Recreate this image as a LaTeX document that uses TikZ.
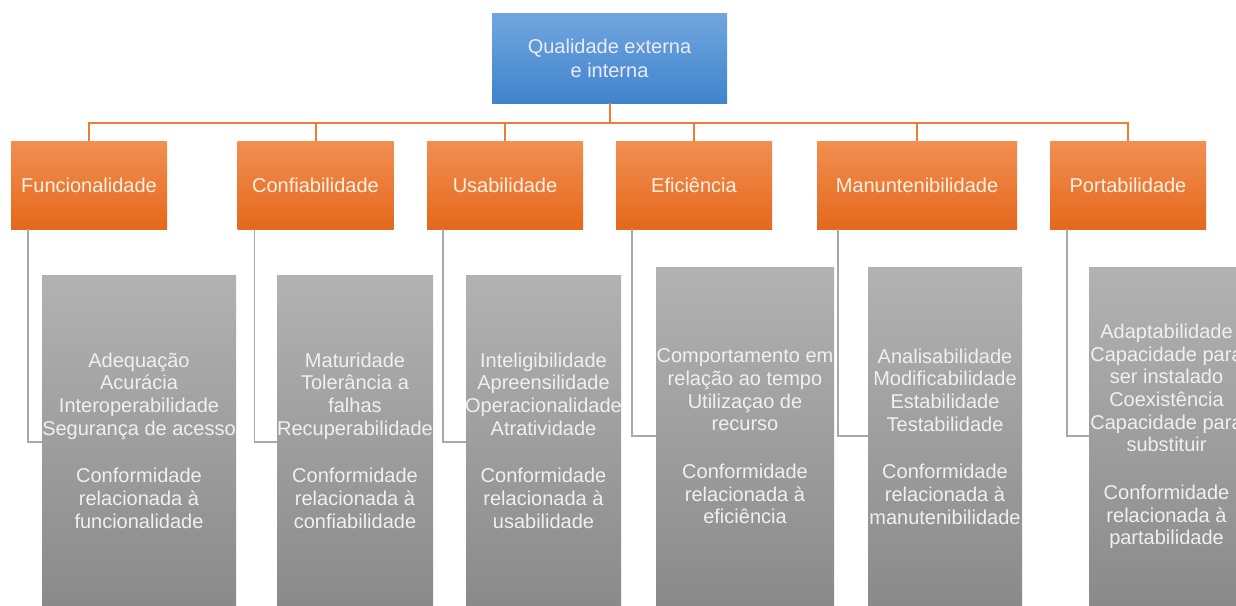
\documentclass[tikz,border=0pt]{standalone}
\usepackage{fontspec}
\setmainfont{Liberation Sans}
\usetikzlibrary{shadings}
\definecolor{bluetop}{RGB}{112,166,222}
\definecolor{bluebot}{RGB}{64,132,205}
\definecolor{ortop}{RGB}{242,143,82}
\definecolor{orbot}{RGB}{229,104,28}
\definecolor{grtop}{RGB}{178,178,178}
\definecolor{grbot}{RGB}{138,138,138}
\definecolor{orline}{RGB}{237,125,49}
\definecolor{brline}{RGB}{168,168,168}
\begin{document}
\begin{tikzpicture}[x=1pt,y=-1pt,
  rootbox/.style={rectangle, top color=bluetop, bottom color=bluebot, minimum width=235pt, minimum height=90pt, inner sep=0pt, align=center, text=white!92!blue, font=\fontsize{20}{24}\selectfont},
  catbox/.style={rectangle, top color=ortop, bottom color=orbot, minimum height=88pt, inner sep=0pt, text=white!90!orange, font=\fontsize{20}{24}\selectfont},
  subbox/.style={rectangle, top color=grtop, bottom color=grbot, inner sep=0pt},
  subtext/.style={align=center, text=white!94!black, font=\fontsize{20}{22.7}\selectfont, inner sep=0pt},
  bus/.style={draw=orline, line width=2pt},
  bracket/.style={draw=brline, line width=1.5pt}]
\useasboundingbox (0,0) rectangle (1236,605);

% root
\node[rootbox] (root) at (609.5,58) {Qualidade externa\\e interna};

% categories
\node[catbox, minimum width=156pt] (fun) at (89,185) {Funcionalidade};
\node[catbox, minimum width=156pt] (conf) at (315.5,185) {Confiabilidade};
\node[catbox, minimum width=156pt] (usa) at (505,185) {Usabilidade};
\node[catbox, minimum width=156pt] (efi) at (694,185) {Eficiência};
\node[catbox, minimum width=200pt] (man) at (917,185) {Manuntenibilidade};
\node[catbox, minimum width=156pt] (por) at (1128,185) {Portabilidade};

% bus connectors
\foreach \c in {fun,conf,usa,efi,man,por}
  \draw[bus] (root.south) -- ++(0,20) -| (\c.north);

\begin{scope}
\clip (0,0) rectangle (1236,605);
% gray boxes
\node[subbox, minimum width=194pt, minimum height=331pt] (g1) at (139,440.5) {};
\node[subbox, minimum width=156pt, minimum height=331pt] (g2) at (355,440.5) {};
\node[subbox, minimum width=155pt, minimum height=331pt] (g3) at (543.5,440.5) {};
\node[subbox, minimum width=178pt, minimum height=339pt] (g4) at (745,436.5) {};
\node[subbox, minimum width=154pt, minimum height=339pt] (g5) at (945,436.5) {};
\node[subbox, minimum width=155pt, minimum height=339pt] (g6) at (1166.5,436.5) {};

% brackets
\draw[bracket] ([xshift=17pt]fun.south west) |- ([yshift=-167pt]g1.north west);
\draw[bracket] ([xshift=17pt]conf.south west) |- ([yshift=-167pt]g2.north west);
\draw[bracket] ([xshift=16pt]usa.south west) |- ([yshift=-167pt]g3.north west);
\draw[bracket] ([xshift=16pt]efi.south west) |- ([yshift=-169pt]g4.north west);
\draw[bracket] ([xshift=21pt]man.south west) |- ([yshift=-169pt]g5.north west);
\draw[bracket] ([xshift=17pt]por.south west) |- ([yshift=-169pt]g6.north west);

% texts
\node[subtext] (t1) at (g1.center) {Adequação\\Acurácia\\Interoperabilidade\\Segurança de acesso\\[25pt]Conformidade\\relacionada à\\funcionalidade};
\node[subtext] (t2) at (g2.center) {Maturidade\\Tolerância a\\falhas\\Recuperabilidade\\[25pt]Conformidade\\relacionada à\\confiabilidade};
\node[subtext] (t3) at (g3.center) {Inteligibilidade\\Apreensilidade\\Operacionalidade\\Atratividade\\[25pt]Conformidade\\relacionada à\\usabilidade};
\node[subtext] (t4) at (g4.center) {Comportamento em\\relação ao tempo\\Utilizaçao de\\recurso\\[25pt]Conformidade\\relacionada à\\eficiência};
\node[subtext] (t5) at (g5.center) {Analisabilidade\\Modificabilidade\\Estabilidade\\Testabilidade\\[25pt]Conformidade\\relacionada à\\manutenibilidade};
\node[subtext] (t6) at (g6.center) {Adaptabilidade\\Capacidade para\\ser instalado\\Coexistência\\Capacidade para\\substituir\\[25pt]Conformidade\\relacionada à\\partabilidade};
\end{scope}
\end{tikzpicture}
\end{document}
